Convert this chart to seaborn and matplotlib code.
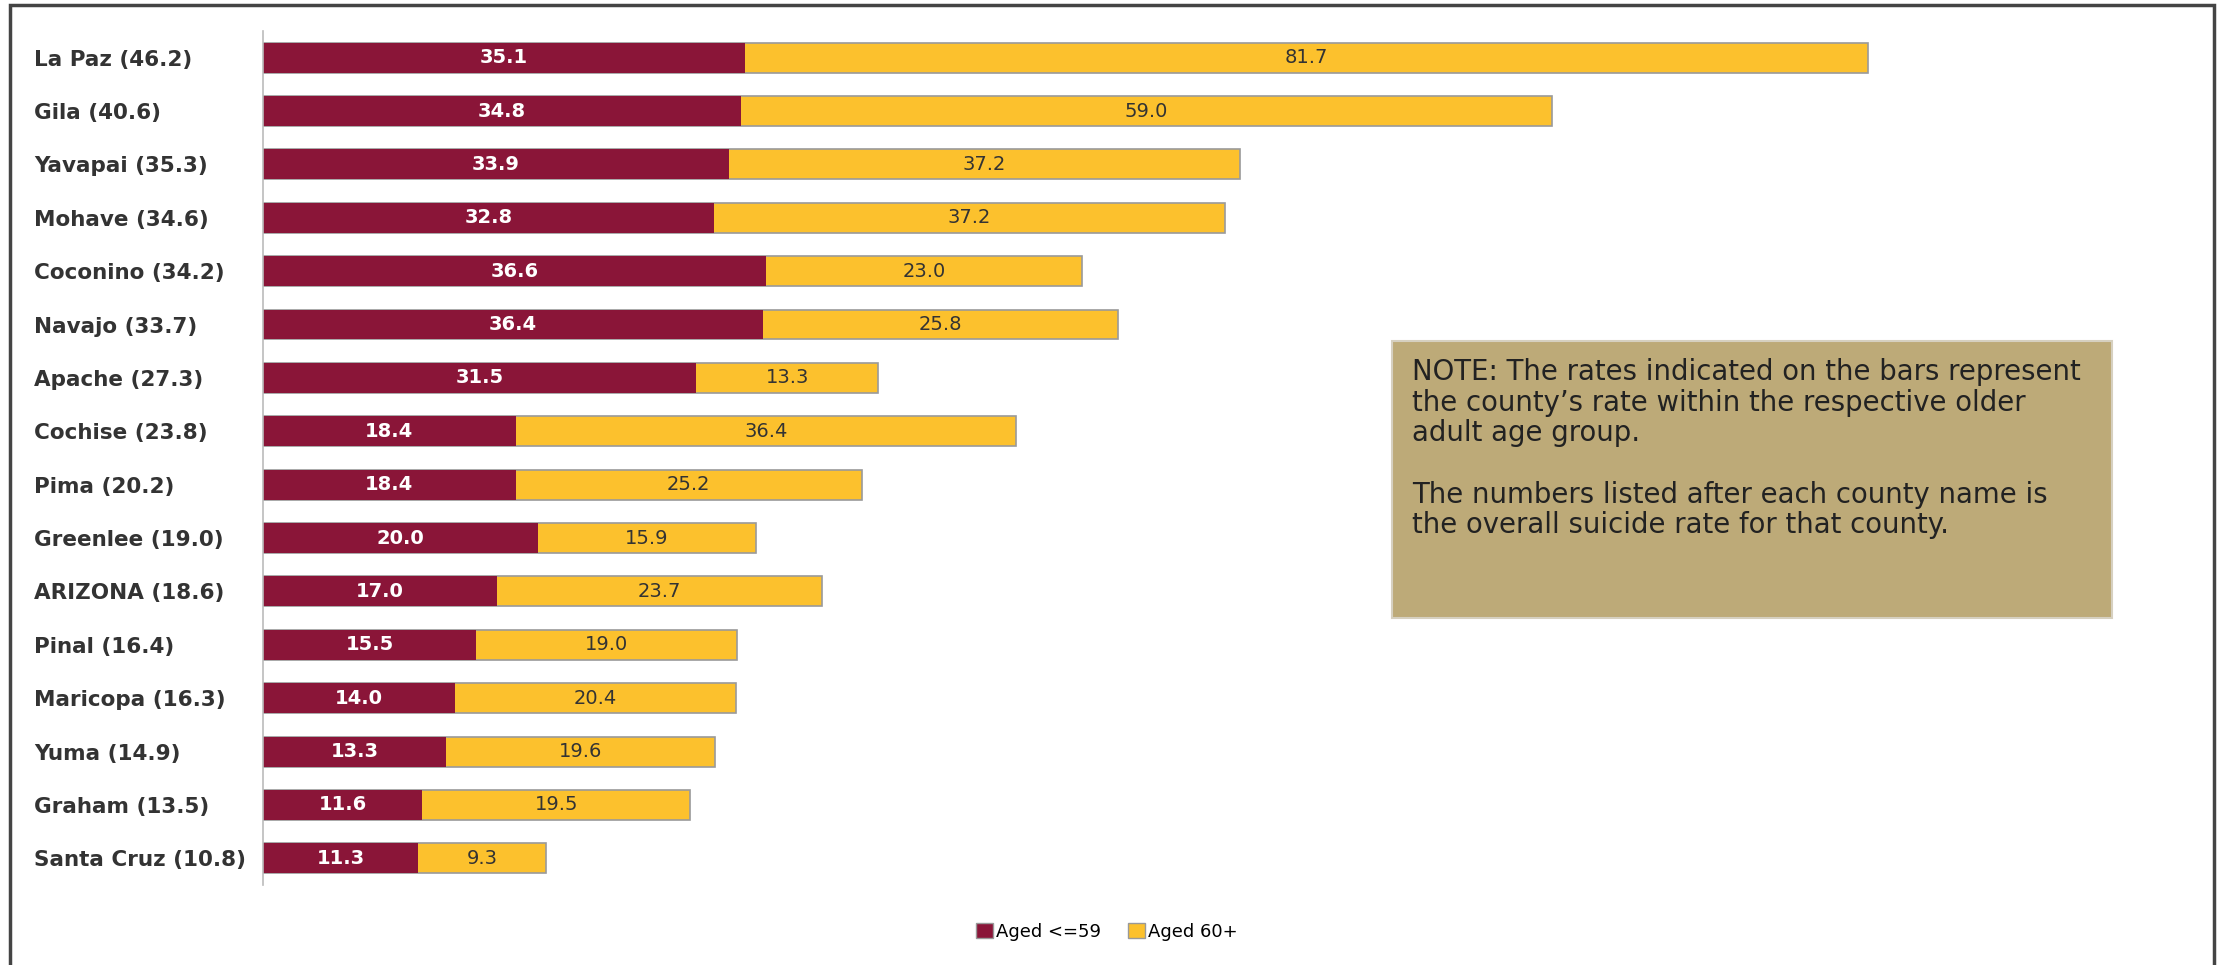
import pandas as pd
import seaborn as sns
import matplotlib.pyplot as plt
from matplotlib.patches import Rectangle, Patch

counties = ['La Paz (46.2)', 'Gila (40.6)', 'Yavapai (35.3)', 'Mohave (34.6)',
            'Coconino (34.2)', 'Navajo (33.7)', 'Apache (27.3)', 'Cochise (23.8)',
            'Pima (20.2)', 'Greenlee (19.0)', 'ARIZONA (18.6)', 'Pinal (16.4)',
            'Maricopa (16.3)', 'Yuma (14.9)', 'Graham (13.5)', 'Santa Cruz (10.8)']
aged_59 = [35.1, 34.8, 33.9, 32.8, 36.6, 36.4, 31.5, 18.4, 18.4, 20.0, 17.0, 15.5, 14.0, 13.3, 11.6, 11.3]
aged_60 = [81.7, 59.0, 37.2, 37.2, 23.0, 25.8, 13.3, 36.4, 25.2, 15.9, 23.7, 19.0, 20.4, 19.6, 19.5, 9.3]

maroon = '#8A1538'
gold = '#FCC12D'

df = pd.DataFrame({'county': counties, 'young': aged_59, 'old': aged_60})
df['total'] = df['young'] + df['old']

plt.rcParams['font.family'] = ['DejaVu Sans']

fig = plt.figure(figsize=(22.21, 9.65), dpi=100)
ax = fig.add_axes([0.1184, 0.0829, 0.8784, 0.885])

# stacked bars: total in gold underneath, young group in maroon on top
sns.barplot(data=df, y='county', x='total', color=gold, width=0.56,
            edgecolor='#9a9a9a', linewidth=1.2, saturation=1, ax=ax)
sns.barplot(data=df, y='county', x='young', color=maroon, width=0.56,
            edgecolor='#9a9a9a', linewidth=0, saturation=1, ax=ax)

for i, row in df.iterrows():
    ax.text(row['young'] / 2, i, f"{row['young']:.1f}", ha='center', va='center',
            color='white', fontsize=14, fontweight='bold')
    ax.text(row['young'] + row['old'] / 2, i, f"{row['old']:.1f}", ha='center', va='center',
            color='#333333', fontsize=14)

ax.set_xlim(0, 142)
ax.set_ylim(15.5, -0.5)
ax.set_xlabel('')
ax.set_ylabel('')
ax.set_xticks([])
ax.tick_params(axis='y', length=0, pad=165, labelsize=15.5, labelcolor='#333333')
for lab in ax.get_yticklabels():
    lab.set_fontweight('bold')
    lab.set_horizontalalignment('left')
for s in ['top', 'right', 'bottom']:
    ax.spines[s].set_visible(False)
ax.spines['left'].set_color('#bbbbbb')
ax.spines['left'].set_linewidth(1.2)

# note box
fig.patches.append(Rectangle((0.6267, 0.3596), 0.3242, 0.287, transform=fig.transFigure,
                             facecolor='#BDAA78', edgecolor='#d6d0c0', linewidth=1.5, zorder=5))
fig.text(0.6357, 0.629,
         "NOTE: The rates indicated on the bars represent\nthe county\u2019s rate within the respective older\nadult age group.\n\n"
         "The numbers listed after each county name is\nthe overall suicide rate for that county.",
         ha='left', va='top', fontsize=19.8, color='#222222', linespacing=1.12, zorder=6)

# outer frame
fig.patches.append(Rectangle((0.0045, -0.05), 0.9925, 1.045, transform=fig.transFigure,
                             facecolor='none', edgecolor='#444444', linewidth=2.5))

handles = [Patch(facecolor=maroon, edgecolor='#999999'), Patch(facecolor=gold, edgecolor='#999999')]
fig.legend(handles, ['Aged <=59', 'Aged 60+'], loc='center', bbox_to_anchor=(0.4985, 0.034),
           ncol=2, frameon=False, fontsize=13, handlelength=0.9, handleheight=0.9,
           handletextpad=0.2, columnspacing=1.5)

fig.savefig('out.png', dpi=100)
